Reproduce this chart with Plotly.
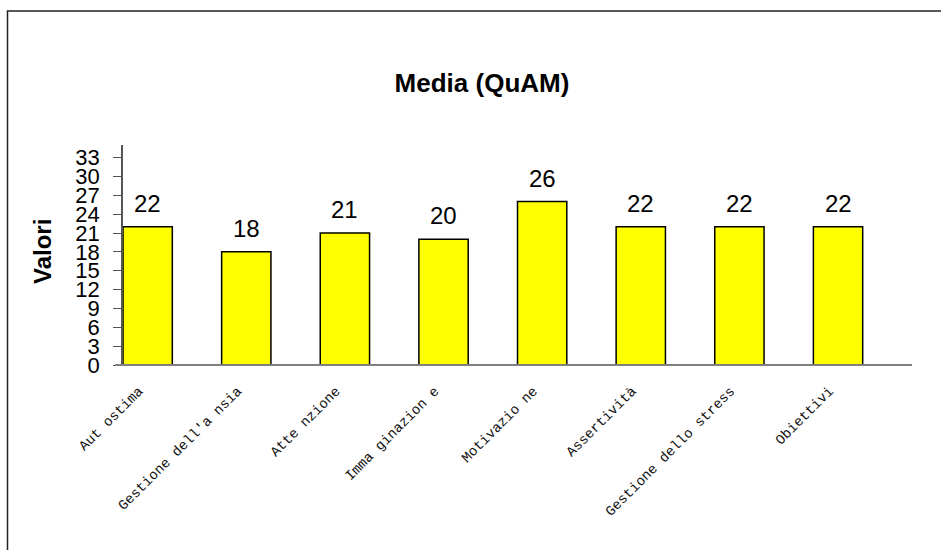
import plotly.graph_objects as go

categories = ["Aut ostima", "Gestione dell'a nsia", "Atte nzione", "Imma ginazion e",
              "Motivazio ne", "Assertività", "Gestione dello stress", "Obiettivi"]
values = [22, 18, 21, 20, 26, 22, 22, 22]
y_ticks = list(range(0, 34, 3))

W, H = 941, 550
L, R, T, B = 123, 29, 145, 185
pw, ph = W - L - R, H - T - B

def px(X):
    return (X - L) / pw

def py(Y):
    return (H - B - Y) / ph

xs = list(range(len(categories)))
label_offset = -0.09  # tick labels sit slightly left of bar centres

fig = go.Figure()
fig.add_trace(go.Bar(
    x=xs, y=values, width=0.5,
    marker=dict(color="#FFFF00", line=dict(color="#000000", width=1.5)),
    hoverinfo="skip",
))

annotations = []
for xi, v in zip(xs, values):
    annotations.append(dict(x=xi, y=v, xref="x", yref="y", text=str(v), showarrow=False,
                            yanchor="bottom", yshift=8,
                            font=dict(family="Liberation Sans, Arial", size=24, color="#000")))
annotations.append(dict(x=px(42), y=py(252), xref="paper", yref="paper", text="<b>Valori</b>",
                        textangle=-90, showarrow=False, xanchor="center", yanchor="middle",
                        font=dict(family="Liberation Sans, Arial", size=24, color="#000")))

shapes = [
    dict(type="rect", xref="paper", yref="paper", x0=px(7.5), x1=px(950), y0=py(560), y1=py(11),
         line=dict(color="#222222", width=1.5), fillcolor="rgba(0,0,0,0)", layer="below"),
    dict(type="line", xref="paper", yref="paper", x0=px(115), x1=px(912), y0=0, y1=0,
         line=dict(color="#808080", width=2)),
]

fig.update_layout(
    width=W, height=H,
    margin=dict(l=L, r=R, t=T, b=B, pad=0),
    paper_bgcolor="white", plot_bgcolor="white",
    showlegend=False,
    title=dict(text="<b>Media (QuAM)</b>", xref="container", yref="container",
               x=482 / W, y=1 - 83 / H, xanchor="center", yanchor="middle",
               font=dict(family="Liberation Sans, Arial", size=26, color="#000")),
    xaxis=dict(tickmode="array", tickvals=[x + label_offset for x in xs], ticktext=categories,
               tickangle=-45,
               range=[-0.25, len(categories) - 0.25], showgrid=False, zeroline=False,
               showline=False, ticks="", ticklabelstandoff=14,
               tickfont=dict(family="Liberation Mono, Courier New, monospace", size=14, color="#111")),
    yaxis=dict(range=[0, 35], tickmode="array", tickvals=y_ticks, ticktext=[str(t) for t in y_ticks],
               showgrid=False, zeroline=False, showline=True, linecolor="#555555", linewidth=1.5,
               ticks="outside", ticklen=8, tickcolor="#555555", tickwidth=1,
               ticklabelstandoff=9,
               tickfont=dict(family="Liberation Sans, Arial", size=22, color="#000")),
    annotations=annotations,
    shapes=shapes,
)

fig.write_html("out.html")
